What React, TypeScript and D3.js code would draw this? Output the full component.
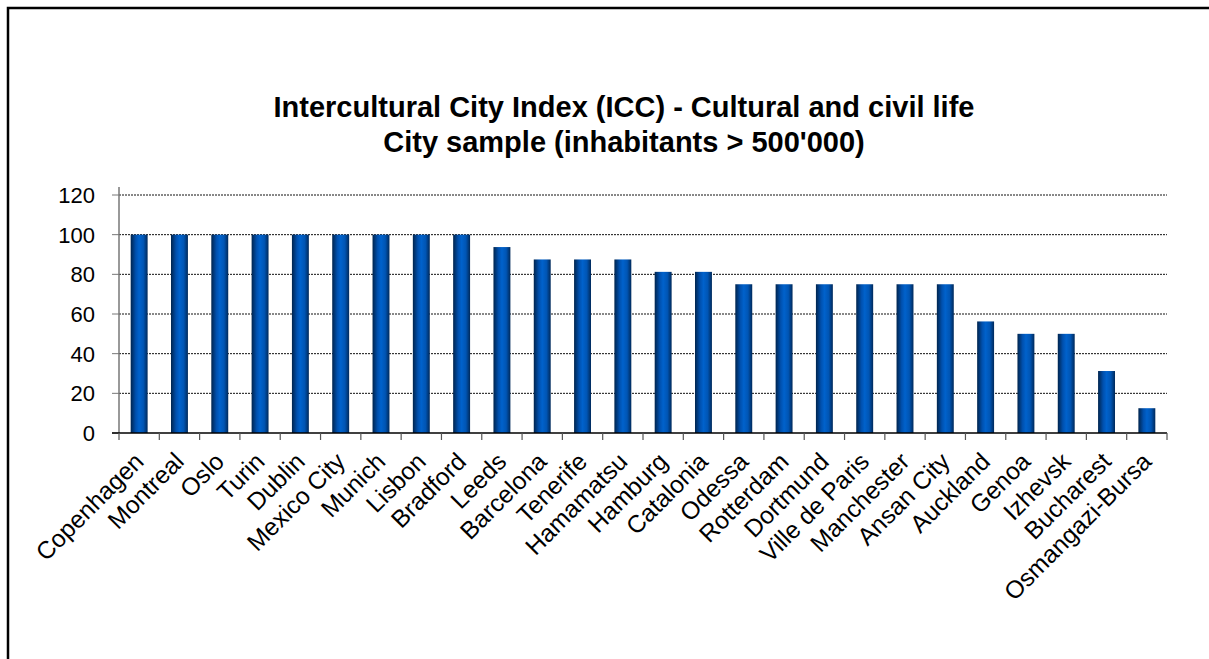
import React from "react";
import * as d3 from "d3";

const cities = [
  "Copenhagen", "Montreal", "Oslo", "Turin", "Dublin", "Mexico City", "Munich",
  "Lisbon", "Bradford", "Leeds", "Barcelona", "Tenerife", "Hamamatsu", "Hamburg",
  "Catalonia", "Odessa", "Rotterdam", "Dortmund", "Ville de Paris", "Manchester",
  "Ansan City", "Auckland", "Genoa", "Izhevsk", "Bucharest", "Osmangazi-Bursa",
];
const scores = [
  100, 100, 100, 100, 100, 100, 100, 100, 100, 93.75, 87.5, 87.5, 87.5, 81.25,
  81.25, 75, 75, 75, 75, 75, 75, 56.25, 50, 50, 31.25, 12.5,
];
const yTicks = [0, 20, 40, 60, 80, 100, 120];
const titleLines = [
  "Intercultural City Index (ICC) - Cultural and civil life",
  "City sample (inhabitants > 500'000)",
];

const W = 1209;
const H = 659;
const left = 119;
const right = 1167;
const top = 195;
const bottom = 433;

export default function App() {
  const x = d3.scaleBand<string>().domain(cities).range([left, right]).padding(0);
  const y = d3.scaleLinear().domain([0, 120]).range([bottom, top]);
  const bw = x.bandwidth() * 0.42;
  const font = "Arial, 'Liberation Sans', Helvetica, sans-serif";

  return (
    <svg
      width={W}
      height={H}
      style={{ position: "absolute", left: 0, top: 0, display: "block", background: "#fff" }}
    >
      <defs>
        <linearGradient id="barGrad" x1="0" y1="0" x2="1" y2="0">
          <stop offset="0%" stopColor="#00244d" />
          <stop offset="30%" stopColor="#0050ae" />
          <stop offset="50%" stopColor="#0062cc" />
          <stop offset="75%" stopColor="#0055b4" />
          <stop offset="100%" stopColor="#00295a" />
        </linearGradient>
      </defs>

      {/* chart frame: only its left and top edges fall inside the view */}
      <path d={`M8,${H + 10} V8 H${W + 10}`} fill="none" stroke="#000" strokeWidth={2.5} />

      <g fontFamily={font} fontWeight="bold" fontSize={29} textAnchor="middle" fill="#000">
        {titleLines.map((t, i) => (
          <text key={i} x={624} y={117 + i * 35}>
            {t}
          </text>
        ))}
      </g>

      {/* horizontal gridlines and y ticks */}
      {yTicks.map((v) => (
        <g key={v}>
          {v > 0 && (
            <line
              x1={left}
              x2={right}
              y1={y(v)}
              y2={y(v)}
              stroke="#111"
              strokeWidth={1}
              strokeDasharray="2 1"
            />
          )}
          <line x1={left - 7} x2={left} y1={y(v)} y2={y(v)} stroke="#777" strokeWidth={1} />
          <text
            x={left - 24}
            y={y(v)}
            dy="0.36em"
            textAnchor="end"
            fontFamily={font}
            fontSize={22}
            fill="#000"
          >
            {v}
          </text>
        </g>
      ))}

      {/* bars */}
      {cities.map((c, i) => {
        const cx = (x(c) as number) + x.bandwidth() / 2;
        return (
          <rect
            key={c}
            x={cx - bw / 2}
            y={y(scores[i])}
            width={bw}
            height={y(0) - y(scores[i])}
            fill="url(#barGrad)"
          />
        );
      })}

      {/* axes */}
      <line x1={left} x2={left} y1={top - 8} y2={bottom} stroke="#777" strokeWidth={1.5} />
      <line x1={left - 7} x2={right} y1={bottom} y2={bottom} stroke="#000" strokeWidth={1.5} />
      {cities.concat([""]).map((_, i) => {
        const xx = left + i * x.step();
        return <line key={i} x1={xx} x2={xx} y1={bottom} y2={bottom + 7} stroke="#555" strokeWidth={1.2} />;
      })}

      {/* category labels */}
      {cities.map((c) => {
        const cx = (x(c) as number) + x.bandwidth() / 2;
        return (
          <text
            key={c}
            transform={`translate(${cx + 6},${bottom + 30}) rotate(-45)`}
            textAnchor="end"
            fontFamily={font}
            fontSize={24.5}
            fill="#000"
          >
            {c}
          </text>
        );
      })}
    </svg>
  );
}
